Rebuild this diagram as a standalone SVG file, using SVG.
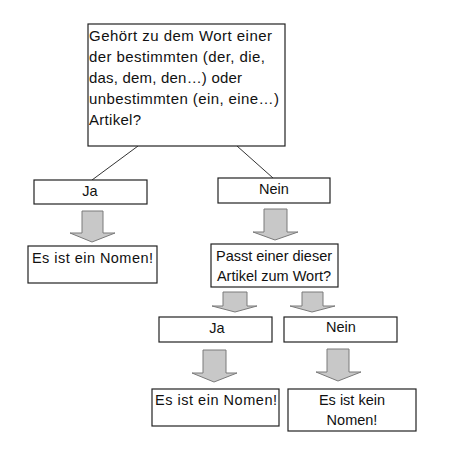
<svg xmlns="http://www.w3.org/2000/svg" width="449" height="462" viewBox="0 0 449 462">
<style>
.box{fill:#fff;stroke:#222;stroke-width:1.2}
.t{font-family:"Liberation Sans",Arial,sans-serif;font-size:14.5px;fill:#111}
.c{text-anchor:middle}
.arr{fill:#c8c8c8;stroke:#7a7a7a;stroke-width:1}
.ln{stroke:#333;stroke-width:1;fill:none}
</style>
<rect width="449" height="462" fill="#fff"/>
<g id="connectors">
<line class="ln" x1="138" y1="146" x2="92" y2="180"/>
<line class="ln" x1="237" y1="146" x2="273" y2="178"/>
<polygon class="arr" points="82,211 103,211 103,233 115,233 92,242 70,233 82,233"/>
<polygon class="arr" points="264,209 287,209 287,232 298,232 275,240 253,232 264,232"/>
<polygon class="arr" points="223,292 247,292 247,306 257,306 235,312 212,306 223,306"/>
<polygon class="arr" points="302,292 323,292 323,306 335,306 312,312 290,306 302,306"/>
<polygon class="arr" points="203,350 226,350 226,373 237,373 214,382 192,373 203,373"/>
<polygon class="arr" points="327,349 349,349 349,372 361,372 338,381 316,372 327,372"/>
</g>
<g id="q1">
<rect class="box" x="88" y="24" width="197" height="122"/>
<text class="t" style="font-size:15px" x="89" y="41" textLength="183">Gehört zu dem Wort einer</text>
<text class="t" style="font-size:15px" x="89" y="62" textLength="176">der bestimmten (der, die,</text>
<text class="t" style="font-size:15px" x="89" y="83" textLength="153">das, dem, den…) oder</text>
<text class="t" style="font-size:15px" x="89" y="104" textLength="190">unbestimmten (ein, eine…)</text>
<text class="t" style="font-size:15px" x="89" y="125" textLength="52">Artikel?</text>
</g>
<g id="ja1">
<rect class="box" x="34" y="180" width="113" height="24"/>
<text class="t c" x="90" y="196">Ja</text>
</g>
<g id="nein1">
<rect class="box" x="218" y="178" width="112" height="25"/>
<text class="t c" x="274" y="194">Nein</text>
</g>
<g id="nomen1">
<rect class="box" x="28" y="246" width="129" height="37"/>
<text class="t" x="32" y="263" textLength="121">Es ist ein Nomen!</text>
</g>
<g id="q2">
<rect class="box" x="211" y="244" width="127" height="43"/>
<text class="t c" x="274" y="261">Passt einer dieser</text>
<text class="t c" x="274" y="281">Artikel zum Wort?</text>
</g>
<g id="ja2">
<rect class="box" x="159" y="317" width="113" height="25"/>
<text class="t c" x="217" y="333">Ja</text>
</g>
<g id="nein2">
<rect class="box" x="284" y="317" width="113" height="25"/>
<text class="t c" x="341" y="332">Nein</text>
</g>
<g id="nomen2">
<rect class="box" x="152" y="389" width="127" height="37"/>
<text class="t" x="155" y="405" textLength="122">Es ist ein Nomen!</text>
</g>
<g id="keinnomen">
<rect class="box" x="288" y="389" width="128" height="42"/>
<text class="t c" x="352" y="405">Es ist kein</text>
<text class="t c" x="352" y="425">Nomen!</text>
</g>
</svg>
